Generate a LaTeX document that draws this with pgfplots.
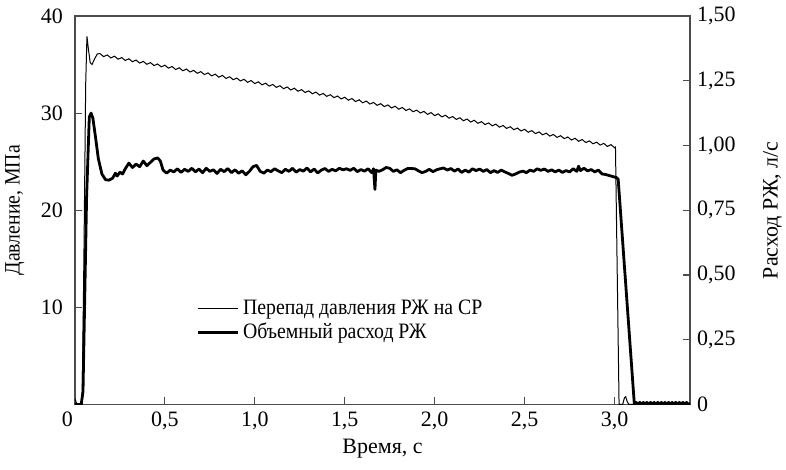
\documentclass[border=0pt]{standalone}
\usepackage{fontspec}
\setmainfont{Liberation Serif}
\newfontfamily\condensed{Liberation Serif}[FakeStretch=0.9]
\usepackage{pgfplots}
\pgfplotsset{compat=1.18}
\begin{document}
\begin{tikzpicture}
\pgfplotsset{
  every axis/.append style={
    font=\fontsize{11}{13}\selectfont,
    scale only axis, width=308pt, height=194.5pt,
    xmin=0, xmax=3.42,
    axis line style={black!70, line width=0.7pt},
    every tick/.style={black!70, line width=0.6pt},
    major tick length=3.5pt,
    tick align=inside,
    /pgf/number format/assume math mode=true,
  }
}
\begin{axis}[
  ymin=0, ymax=40,
  xtick={0,0.5,1,1.5,2,2.5,3},
  xticklabels={\makebox[0pt][r]{0\hspace{1pt}},{0,5},{1,0},{1,5},{2,0},{2,5},{3,0}},
  ytick={10,20,30,40},
  yticklabels={10,20,30,40},
  xtick pos=bottom, ytick pos=left,
  yticklabel style={xshift=-2.5pt},
  xlabel={Время, с},
  ylabel={\condensed Давление, МПа},
  xlabel style={yshift=2pt},
  ylabel style={inner sep=1pt, yshift=3.8pt},
  legend style={draw=none, fill=none, at={(0.187,0.215)}, anchor=west,
    font=\condensed\fontsize{11}{13}\selectfont, row sep=-1.2pt,
    legend cell align=left},
  legend image code/.code={\draw[#1] (0pt,0pt) -- (20pt,0pt);},
]
\coordinate (SW) at (rel axis cs:0,0);
\coordinate (NE) at (rel axis cs:1,1);
\addlegendimage{black, line width=0.5pt}
\addlegendentry{Перепад давления РЖ на СР}
\addlegendimage{black, line width=1.4pt}
\addlegendentry{Объемный расход РЖ}
\addplot[black, line width=0.5pt] coordinates {
(0.000,0.6) (0.010,0.1) (0.040,0.0) (0.050,15) (0.060,33) (0.067,37.9) (0.075,36.6) (0.085,35.2) (0.095,35.0) (0.110,35.6) (0.125,36.1)
(0.14,36.12) (0.16,35.81) (0.18,35.99) (0.20,35.68) (0.22,35.86) (0.24,35.55) (0.26,35.72) (0.28,35.42) (0.30,35.59) (0.32,35.29)
(0.34,35.46) (0.36,35.15) (0.38,35.33) (0.40,35.02) (0.42,35.20) (0.44,34.89) (0.46,35.06) (0.48,34.76) (0.50,34.93) (0.52,34.63)
(0.54,34.80) (0.56,34.49) (0.58,34.67) (0.60,34.36) (0.62,34.54) (0.64,34.23) (0.66,34.40) (0.68,34.10) (0.70,34.27) (0.72,33.97)
(0.74,34.14) (0.76,33.83) (0.78,34.01) (0.80,33.70) (0.82,33.88) (0.84,33.57) (0.86,33.74) (0.88,33.44) (0.90,33.61) (0.92,33.31)
(0.94,33.48) (0.96,33.17) (0.98,33.35) (1.00,33.04) (1.02,33.22) (1.04,32.91) (1.06,33.08) (1.08,32.78) (1.10,32.95) (1.12,32.65)
(1.14,32.82) (1.16,32.51) (1.18,32.69) (1.20,32.38) (1.22,32.56) (1.24,32.25) (1.26,32.42) (1.28,32.12) (1.30,32.29) (1.32,31.99)
(1.34,32.16) (1.36,31.85) (1.38,32.03) (1.40,31.72) (1.42,31.90) (1.44,31.59) (1.46,31.76) (1.48,31.46) (1.50,31.63) (1.52,31.33)
(1.54,31.50) (1.56,31.19) (1.58,31.37) (1.60,31.06) (1.62,31.24) (1.64,30.93) (1.66,31.10) (1.68,30.80) (1.70,30.97) (1.72,30.67)
(1.74,30.84) (1.76,30.53) (1.78,30.71) (1.80,30.40) (1.82,30.58) (1.84,30.27) (1.86,30.44) (1.88,30.14) (1.90,30.31) (1.92,30.01)
(1.94,30.18) (1.96,29.87) (1.98,30.05) (2.00,29.74) (2.02,29.92) (2.04,29.61) (2.06,29.78) (2.08,29.48) (2.10,29.65) (2.12,29.35)
(2.14,29.52) (2.16,29.21) (2.18,29.39) (2.20,29.08) (2.22,29.26) (2.24,28.95) (2.26,29.12) (2.28,28.82) (2.30,28.99) (2.32,28.69)
(2.34,28.86) (2.36,28.55) (2.38,28.73) (2.40,28.42) (2.42,28.60) (2.44,28.29) (2.46,28.46) (2.48,28.16) (2.50,28.33) (2.52,28.03)
(2.54,28.20) (2.56,27.89) (2.58,28.07) (2.60,27.76) (2.62,27.94) (2.64,27.63) (2.66,27.80) (2.68,27.50) (2.70,27.67) (2.72,27.37)
(2.74,27.54) (2.76,27.23) (2.78,27.41) (2.80,27.10) (2.82,27.28) (2.84,26.97) (2.86,27.14) (2.88,26.84) (2.90,27.01) (2.92,26.71)
(2.94,26.88) (2.96,26.57) (2.98,26.75) (3.00,26.44) (3.005,26.5) (3.025,0.0) (3.045,0.0) (3.055,0.7) (3.062,0.8) (3.070,0.3) (3.080,0.0) (3.42,0.0)
};
\end{axis}
\begin{axis}[
  ymin=0, ymax=1.5,
  axis y line*=right, axis x line=none,
  ytick={0,0.25,0.5,0.75,1,1.25,1.5},
  yticklabels={0,{0,25},{0,50},{0,75},{1,00},{1,25},{1,50}},
  ylabel={Расход РЖ, л/с},
  ylabel style={inner sep=1pt, yshift=-9.2pt},
]
\addplot[black, line width=1.4pt, line join=round] coordinates {
(0.000,0) (0.035,0) (0.045,0.05) (0.065,0.80) (0.080,1.110) (0.090,1.125) (0.100,1.105) (0.115,1.03) (0.130,0.95) (0.150,0.89)
(0.170,0.868) (0.190,0.866) (0.210,0.874) (0.225,0.893) (0.235,0.882) (0.250,0.897) (0.265,0.890) (0.280,0.910) (0.300,0.932) (0.320,0.915)
(0.340,0.928) (0.360,0.918) (0.380,0.940) (0.400,0.922) (0.420,0.935) (0.440,0.948) (0.460,0.952) (0.475,0.940) (0.490,0.905) (0.510,0.893)
(0.530,0.905) (0.550,0.898) (0.570,0.910) (0.590,0.896) (0.610,0.908) (0.630,0.900) (0.650,0.912) (0.670,0.898) (0.690,0.909) (0.710,0.895)
(0.730,0.912) (0.750,0.900) (0.770,0.906) (0.790,0.892) (0.810,0.908) (0.830,0.899) (0.850,0.911) (0.870,0.895) (0.890,0.906) (0.910,0.893)
(0.930,0.902) (0.950,0.887) (0.970,0.900) (0.990,0.918) (1.010,0.923) (1.030,0.900) (1.050,0.893) (1.070,0.905) (1.090,0.899) (1.110,0.910)
(1.130,0.902) (1.150,0.895) (1.170,0.908) (1.190,0.900) (1.210,0.912) (1.230,0.897) (1.250,0.907) (1.270,0.901) (1.290,0.913) (1.310,0.898)
(1.330,0.909) (1.350,0.894) (1.370,0.905) (1.390,0.911) (1.410,0.900) (1.430,0.908) (1.450,0.902) (1.470,0.912) (1.490,0.906) (1.510,0.910)
(1.530,0.904) (1.550,0.912) (1.570,0.899) (1.590,0.907) (1.610,0.901) (1.630,0.910) (1.650,0.895) (1.660,0.910) (1.668,0.830) (1.673,0.905)
(1.690,0.900) (1.710,0.906) (1.730,0.915) (1.750,0.912) (1.770,0.900) (1.790,0.906) (1.810,0.895) (1.830,0.904) (1.850,0.911) (1.870,0.911)
(1.890,0.910) (1.910,0.902) (1.930,0.895) (1.950,0.900) (1.970,0.908) (1.990,0.899) (2.010,0.906) (2.030,0.910) (2.050,0.913) (2.070,0.905)
(2.090,0.911) (2.110,0.901) (2.130,0.909) (2.150,0.896) (2.170,0.905) (2.190,0.897) (2.210,0.910) (2.230,0.903) (2.250,0.909) (2.270,0.900)
(2.290,0.907) (2.310,0.895) (2.330,0.903) (2.350,0.896) (2.370,0.905) (2.390,0.898) (2.410,0.892) (2.430,0.885) (2.450,0.890) (2.470,0.897)
(2.490,0.901) (2.510,0.895) (2.530,0.905) (2.550,0.900) (2.570,0.910) (2.590,0.904) (2.610,0.909) (2.630,0.900) (2.650,0.906) (2.670,0.898)
(2.690,0.905) (2.710,0.896) (2.730,0.903) (2.750,0.898) (2.770,0.910) (2.790,0.900) (2.800,0.920) (2.810,0.903) (2.830,0.912) (2.850,0.902)
(2.870,0.907) (2.890,0.898) (2.910,0.905) (2.930,0.890) (2.950,0.888) (2.970,0.884) (2.990,0.880) (3.010,0.876) (3.020,0.870) (3.110,0.0)
(3.12,0.008) (3.13,0) (3.14,0.008) (3.15,0) (3.16,0.008) (3.17,0) (3.18,0.008) (3.19,0) (3.20,0.008) (3.21,0) (3.22,0.008) (3.23,0)
(3.24,0.008) (3.25,0) (3.26,0.008) (3.27,0) (3.28,0.008) (3.29,0) (3.30,0.008) (3.31,0) (3.32,0.008) (3.33,0) (3.34,0.008) (3.35,0)
(3.36,0.008) (3.37,0) (3.38,0.008) (3.39,0) (3.40,0.008) (3.41,0) (3.42,0.004)
};
\end{axis}
\path ([xshift=-37.5pt,yshift=-32.5pt]SW) rectangle ([xshift=48pt,yshift=8pt]NE);
\end{tikzpicture}
\end{document}
